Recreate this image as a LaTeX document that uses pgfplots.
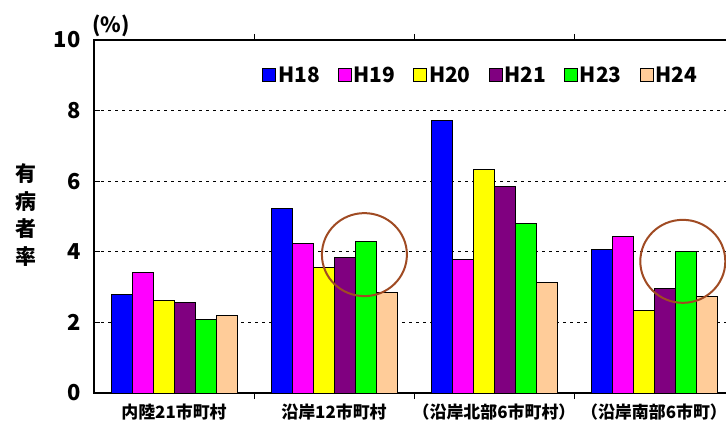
\documentclass[border=0pt]{standalone}
\usepackage{fontspec}
\setmainfont{Noto Sans CJK JP}
\usepackage{pgfplots}
\pgfplotsset{compat=1.18}
\definecolor{cA}{RGB}{0,0,255}
\definecolor{cB}{RGB}{255,0,255}
\definecolor{cC}{RGB}{255,255,0}
\definecolor{cD}{RGB}{128,0,128}
\definecolor{cE}{RGB}{0,255,0}
\definecolor{cF}{RGB}{255,204,153}
\definecolor{circ}{RGB}{160,75,35}
\pgfplotsset{sq/.style={draw=black, line width=1bp, fill=#1,
  legend image code/.code={\draw[fill=#1,draw=black,line width=0.8bp] (0bp,-6.5bp) rectangle (13bp,6.5bp);}}}
\begin{document}
\begin{tikzpicture}[x=1bp,y=1bp]
\useasboundingbox (0,0) rectangle (726,423);
\begin{axis}[
  at={(94bp,30bp)}, anchor=south west,
  scale only axis, width=640bp, height=353bp,
  xmin=-0.5, xmax=3.5, ymin=0, ymax=10,
  ybar=0pt, bar width=21bp,
  xtick={0,1,2,3},
  xticklabels={内陸21市町村, 沿岸12市町村, （沿岸北部6市町村）, （沿岸南部6市町）},
  major x tick style={draw=none},
  minor xtick={0.5,1.5,2.5}, minor tick length=6bp,
  ytick={0,2,4,6,8,10}, major tick length=6bp,
  ymajorgrids, grid style={black, line width=1bp, dash pattern=on 2.5bp off 4.5bp},
  axis line style={line width=1.2bp, black},
  tick style={black, line width=1bp},
  /pgf/number format/assume math mode=true,
  yticklabel style={font=\bfseries\fontsize{22}{22}\selectfont, xshift=-10bp},
  xticklabel style={font=\bfseries\fontsize{17}{17}\selectfont, yshift=-1bp},
  legend style={at={(0.258,0.90)}, anchor=west, draw=none, fill=none,
    legend columns=6, font=\bfseries\fontsize{21}{21}\selectfont,
    /tikz/every even column/.append style={column sep=16bp}},
]
\addplot[sq=cA] coordinates {(0,2.80) (1,5.24) (2,7.73) (3,4.07)};
\addplot[sq=cB] coordinates {(0,3.42) (1,4.24) (2,3.77) (3,4.43)};
\addplot[sq=cC] coordinates {(0,2.63) (1,3.55) (2,6.34) (3,2.33)};
\addplot[sq=cD] coordinates {(0,2.55) (1,3.85) (2,5.86) (3,2.97)};
\addplot[sq=cE] coordinates {(0,2.07) (1,4.28) (2,4.81) (3,4.02)};
\addplot[sq=cF] coordinates {(0,2.20) (1,2.86) (2,3.12) (3,2.73)};
\legend{H18,H19,H20,H21,H23,H24}
\draw[circ, line width=2bp] (axis cs:1.19,3.92) ellipse [x radius=42.5bp, y radius=41.5bp];
\draw[circ, line width=2bp] (axis cs:3.18,3.73) ellipse [x radius=42.5bp, y radius=41.5bp];
\end{axis}
\node[font=\bfseries\fontsize{21}{21}\selectfont] at (111,397) {(\%)};
\node[font=\bfseries\fontsize{21}{28}\selectfont, align=center] at (26,208) {有\\病\\者\\率};
\end{tikzpicture}
\end{document}
